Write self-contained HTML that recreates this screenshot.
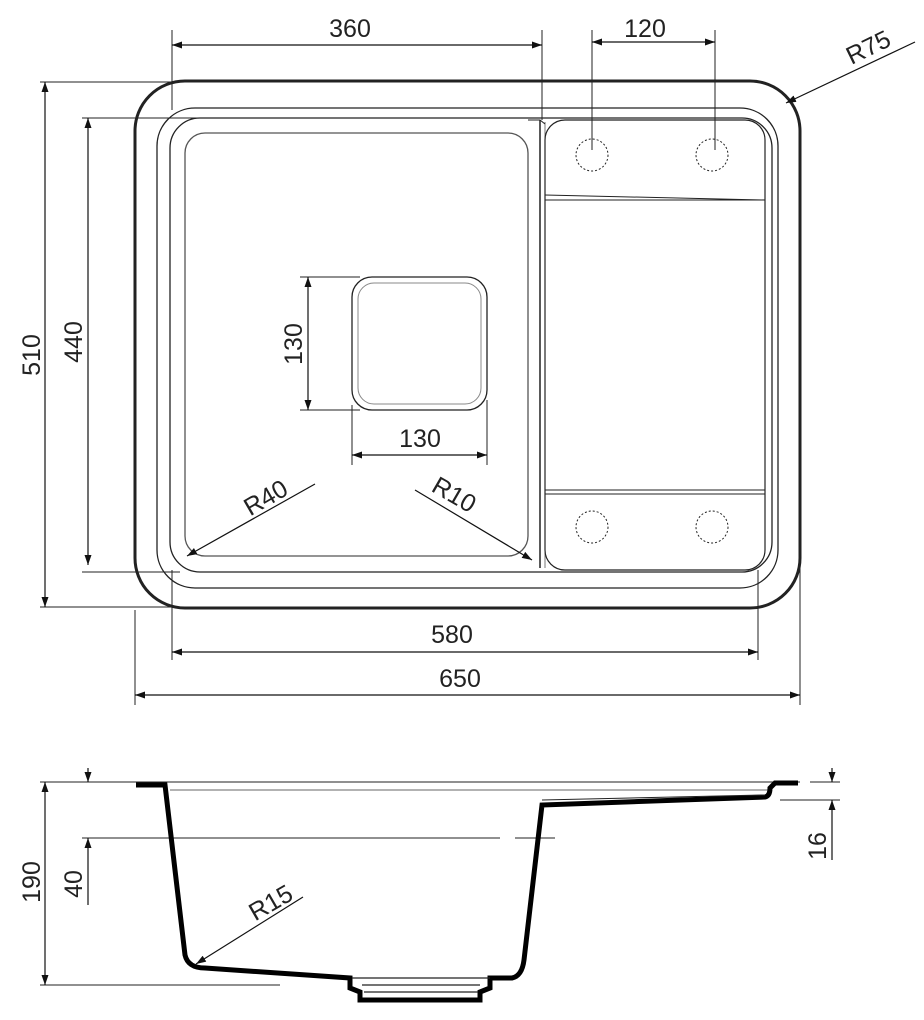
<!DOCTYPE html>
<html><head><meta charset="utf-8"><style>
html,body{margin:0;padding:0;background:#fff}
svg{display:block}
text{font-family:"Liberation Sans",sans-serif;font-size:25px;fill:#222}
</style></head><body>
<svg width="924" height="1020" viewBox="0 0 924 1020" xmlns="http://www.w3.org/2000/svg">
<defs>
<marker id="a" viewBox="0 0 10 10" refX="10" refY="5" markerWidth="10" markerHeight="10" orient="auto-start-reverse" markerUnits="userSpaceOnUse"><path d="M0,1.5 L10,5 L0,8.5z" fill="#111"/></marker>
</defs>
<g fill="none" stroke="#222">
<!-- top view contours -->
<rect x="135" y="81" width="665" height="527" rx="50" stroke-width="3"/>
<rect x="157" y="108" width="621" height="480" rx="38" stroke-width="1.3"/>
<rect x="170" y="118" width="602" height="454" rx="30" stroke-width="1.3"/>
<rect x="185" y="133" width="343" height="423" rx="20" stroke-width="1.3" stroke="#555"/>
<path d="M540,120 L540,568" stroke-width="1.5"/>
<path d="M545,122 L545,568" stroke-width="1" stroke="#777"/>
<rect x="545" y="120" width="220" height="450" rx="20" stroke-width="1.2"/>
<path d="M545,195 L765,200 M545,200 L765,200" stroke-width="1"/>
<path d="M545,490 L765,490 M545,494 L765,494" stroke-width="1"/>
<path d="M528,120 L540,120 L545,124" stroke-width="1"/>
<!-- holes -->
<circle cx="592" cy="155" r="16" stroke-dasharray="2,2"/>
<circle cx="712" cy="155" r="16" stroke-dasharray="2,2"/>
<circle cx="592" cy="527" r="16" stroke-dasharray="2,2"/>
<circle cx="712" cy="527" r="16" stroke-dasharray="2,2"/>
<!-- drain -->
<rect x="352" y="277" width="135" height="133" rx="20" stroke-width="1.3"/>
<rect x="358" y="283" width="123" height="121" rx="16" stroke-width="1" stroke="#888"/>
<!-- extension lines -->
<path d="M172,30 L172,110 M542,30 L542,120 M592,30 L592,150 M715,30 L715,150" stroke-width="1"/>
<path d="M40,82 L180,82 M40,607 L180,607 M82,118 L200,118 M82,572 L180,572 M300,277 L360,277 M300,410 L360,410 M352,405 L352,465 M487,400 L487,465" stroke-width="1"/>
<path d="M172,570 L172,660 M758,570 L758,660 M135,610 L135,705 M800,560 L800,705" stroke-width="1"/>
<!-- dims -->
<g stroke="#111" stroke-width="1.2">
<path d="M172,45 L542,45" marker-start="url(#a)" marker-end="url(#a)"/>
<path d="M592,42 L715,42" marker-start="url(#a)" marker-end="url(#a)"/>
<path d="M915,42 L786,103" marker-end="url(#a)"/>
<path d="M45,82 L45,607" marker-start="url(#a)" marker-end="url(#a)"/>
<path d="M88,118 L88,565" marker-start="url(#a)" marker-end="url(#a)"/>
<path d="M308,277 L308,410" marker-start="url(#a)" marker-end="url(#a)"/>
<path d="M352,455 L487,455" marker-start="url(#a)" marker-end="url(#a)"/>
<path d="M315,484 L187,556" marker-end="url(#a)"/>
<path d="M415,490 L532,560" marker-end="url(#a)"/>
<path d="M172,652 L758,652" marker-start="url(#a)" marker-end="url(#a)"/>
<path d="M135,695 L800,695" marker-start="url(#a)" marker-end="url(#a)"/>
</g>
<!-- section view -->
<path d="M40,782 L135,782 M135,782 L800,782 M40,985 L280,985 M82,838 L500,838 M515,838 L555,838 M780,800 L840,800 M810,782 L840,782" stroke-width="1"/>
<path d="M170,790 L770,790" stroke-width="1.5" stroke="#999"/>
<path d="M136,785 L165,785 L185,955 Q188,968 205,968 L350,978 L350,988 L360,992 L360,1000 L480,1000 L480,992 L490,988 L490,978 L512,978 Q522,976 524,960 L542,805 L765,797 Q770,796 770,788 L775,783 L798,783" stroke-width="5" stroke="#000"/>
<path d="M352,978 L490,978 M362,985 L480,985 M364,992 L478,992" stroke-width="1.2"/>
<path d="M542,800 L765,795" stroke-width="1"/>
<g stroke="#111" stroke-width="1.2">
<path d="M45,782 L45,985" marker-start="url(#a)" marker-end="url(#a)"/>
<path d="M88,768 L88,782" marker-end="url(#a)"/>
<path d="M88,852 L88,838" marker-end="url(#a)"/>
<path d="M88,852 L88,905"/>
<path d="M832,768 L832,782" marker-end="url(#a)"/>
<path d="M832,814 L832,800" marker-end="url(#a)"/>
<path d="M832,814 L832,860"/>
<path d="M303,897 L196,964" marker-end="url(#a)"/>
</g>
</g>
<text x="350" y="37" text-anchor="middle">360</text>
<text x="645" y="37" text-anchor="middle">120</text>
<text x="872" y="55" text-anchor="middle" transform="rotate(-26 872 55)">R75</text>
<text x="0" y="0" text-anchor="middle" transform="translate(40 355) rotate(-90)">510</text>
<text x="0" y="0" text-anchor="middle" transform="translate(82 342) rotate(-90)">440</text>
<text x="0" y="0" text-anchor="middle" transform="translate(302 344) rotate(-90)">130</text>
<text x="420" y="447" text-anchor="middle">130</text>
<text x="270" y="505" text-anchor="middle" transform="rotate(-30 270 505)">R40</text>
<text x="450" y="502" text-anchor="middle" transform="rotate(30 450 502)">R10</text>
<text x="452" y="643" text-anchor="middle">580</text>
<text x="460" y="687" text-anchor="middle">650</text>
<text x="0" y="0" text-anchor="middle" transform="translate(40 882) rotate(-90)">190</text>
<text x="0" y="0" text-anchor="middle" transform="translate(82 884) rotate(-90)">40</text>
<text x="0" y="0" text-anchor="middle" transform="translate(826 846) rotate(-90)">16</text>
<text x="275" y="910" text-anchor="middle" transform="rotate(-30 275 910)">R15</text>
</svg>
</body></html>
